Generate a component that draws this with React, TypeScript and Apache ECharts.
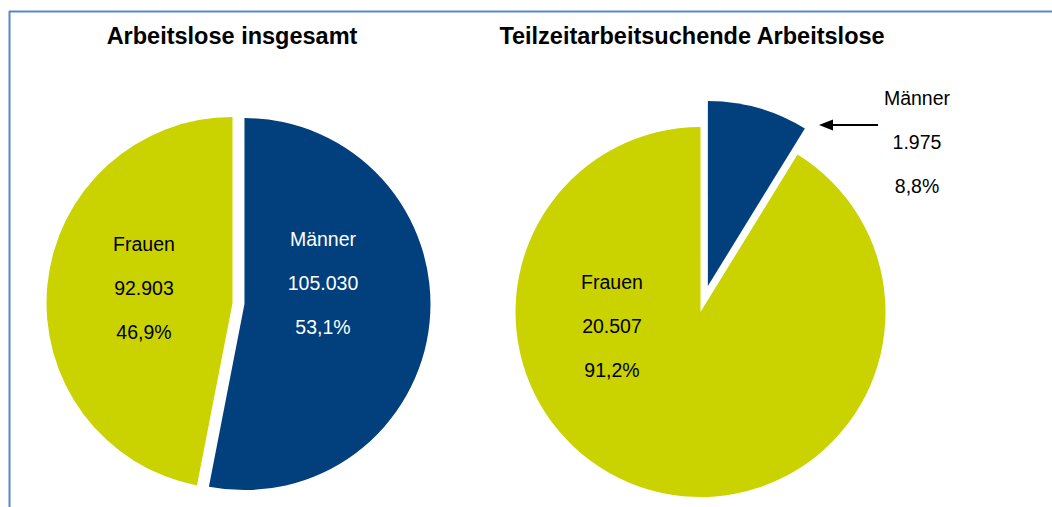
import React, { useEffect, useRef } from "react";
import * as echarts from "echarts";

const categories = ["Männer", "Frauen"];
const totalValues = [105030, 92903];
const parttimeValues = [1975, 20507];
const titles = ["Arbeitslose insgesamt", "Teilzeitarbeitsuchende Arbeitslose"];

const BLUE = "#023f7d";
const YELLOW = "#cad200";
const FONT = "Liberation Sans, Arial, sans-serif";

const fmtNum = (v: number) => String(v).replace(/\B(?=(\d{3})+(?!\d))/g, ".");
const fmtPct = (v: number, all: number[]) =>
  ((v / all.reduce((a, b) => a + b, 0)) * 100).toFixed(1).replace(".", ",") + "%";

// label anchor positions (layout only): centre of the middle line
const leftLabelPos = [
  [323, 283],
  [144, 288],
];
const rightLabelPos = [
  [917, 142],
  [612, 326],
];
const leftLabelColors = ["#ffffff", "#000000"];
const rightLabelColors = ["#000000", "#000000"];

function labelTexts(values: number[], pos: number[][], colors: string[]) {
  const out: any[] = [];
  values.forEach((v, i) => {
    const lines = [categories[i], fmtNum(v), fmtPct(v, values)];
    lines.forEach((t, k) => {
      out.push({
        type: "text",
        x: pos[i][0],
        y: pos[i][1] + (k - 1) * 44,
        z: 100,
        zlevel: 0,
        silent: true,
        style: {
          text: t,
          fill: colors[i],
          font: `19.5px ${FONT}`,
          textAlign: "center",
          textVerticalAlign: "middle",
        },
      });
    });
  });
  return out;
}

export default function App() {
  const ref = useRef<HTMLDivElement>(null);
  useEffect(() => {
    if (!ref.current) return;
    const chart = echarts.init(ref.current, null, { renderer: "svg" });
    const titleStyle = { fontFamily: FONT, fontSize: 23.5, fontWeight: "bold", color: "#000" };
    chart.setOption({
      animation: false,
      backgroundColor: "#ffffff",
      title: [
        { text: titles[0], left: 232, top: 24, padding: 0, textAlign: "center", textStyle: titleStyle },
        { text: titles[1], left: 692, top: 24, padding: 0, textAlign: "center", textStyle: titleStyle },
      ],
      series: [
        {
          type: "pie",
          z: 1,
          center: [238.5, 303.5],
          radius: 186,
          startAngle: 90,
          clockwise: true,
          selectedMode: "multiple",
          selectedOffset: 6,
          silent: true,
          emphasis: { disabled: true },
          label: { show: false },
          labelLine: { show: false },
          data: categories.map((c, i) => ({
            name: c,
            value: totalValues[i],
            selected: true,
            itemStyle: { color: i === 0 ? BLUE : YELLOW },
          })),
        },
        {
          type: "pie",
          z: 1,
          center: [700.5, 312],
          radius: 185,
          startAngle: 90,
          clockwise: true,
          selectedMode: "single",
          selectedOffset: 27,
          silent: true,
          emphasis: { disabled: true },
          label: { show: false },
          labelLine: { show: false },
          data: categories.map((c, i) => ({
            name: c,
            value: parttimeValues[i],
            selected: i === 0,
            itemStyle: { color: i === 0 ? BLUE : YELLOW },
          })),
        },
      ],
      graphic: {
        z: 100,
        elements: [
          { type: "line", shape: { x1: 9, y1: 11.5, x2: 1052, y2: 11.5 }, style: { stroke: "#5b87c8", lineWidth: 2 }, silent: true },
          { type: "line", shape: { x1: 9.5, y1: 11, x2: 9.5, y2: 507 }, style: { stroke: "#5b87c8", lineWidth: 2 }, silent: true },
          { type: "line", shape: { x1: 878, y1: 125, x2: 828, y2: 125 }, style: { stroke: "#000", lineWidth: 2 }, silent: true },
          { type: "polygon", shape: { points: [[819, 125], [833, 119.5], [833, 130.5]] }, style: { fill: "#000" }, silent: true },
          ...labelTexts(totalValues, leftLabelPos, leftLabelColors),
          ...labelTexts(parttimeValues, rightLabelPos, rightLabelColors),
        ],
      },
    });
    return () => chart.dispose();
  }, []);
  return <div ref={ref} style={{ position: "absolute", left: 0, top: 0, width: 1052, height: 507 }} />;
}
